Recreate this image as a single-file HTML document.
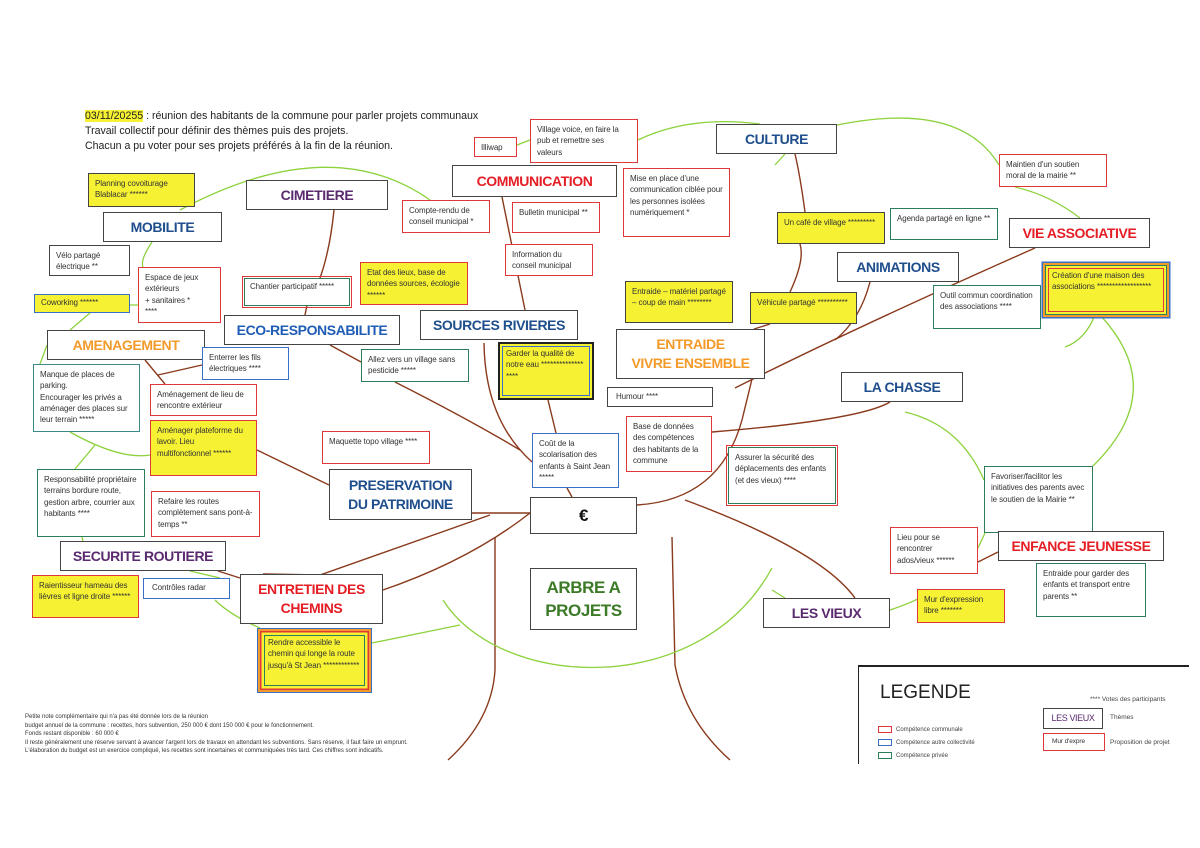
<!DOCTYPE html>
<html><head><meta charset="utf-8"><style>
body{margin:0;width:1200px;height:848px;background:#fff;position:relative;overflow:hidden;font-family:"Liberation Sans",sans-serif;}
.b{position:absolute;box-sizing:border-box;border:1.5px solid #c33;background:#fff;font-size:8px;line-height:11.3px;color:#333;padding:4px 6px;letter-spacing:-0.1px}
.r{border-color:#e0383a}.g{border-color:#2e7d5a}.bl{border-color:#3a6fc8}.d{border-color:#444}
.y{background:#f6f233}
.t{position:absolute;box-sizing:border-box;border:1.5px solid #444;background:#fff;font-weight:bold;font-size:14px;letter-spacing:-0.4px;display:flex;align-items:center;justify-content:center;text-align:center;line-height:19px;}
.hd{position:absolute;left:85px;font-size:10.6px;color:#222;}
svg{position:absolute;left:0;top:0}
</style></head><body>
<svg width="1200" height="848" fill="none">
<g stroke="#8a3a1c" stroke-width="1.4">
<path d="M495 537 L495 670 Q492 720 448 760"/>
<path d="M672 537 L675 665 Q685 720 730 760"/>
<path d="M530 513 L472 513"/>
<path d="M530 513 Q470 560 383 590"/>
<path d="M490 515 L320 575 L263 574"/>
<path d="M572 497 L567 488 M556 433 L548 400"/>
<path d="M484 343 Q485 420 532 462"/>
<path d="M395 382 Q470 420 520 450"/>
<path d="M330 345 L361 362"/>
<path d="M637 505 Q720 500 742 420 L752 379 M754 329 L770 324 M790 292 Q805 260 800 244 M805 212 Q800 175 795 154"/>
<path d="M735 388 Q850 330 1035 248"/>
<path d="M870 282 Q860 320 835 340"/>
<path d="M712 432 Q860 420 890 402"/>
<path d="M685 500 Q820 550 855 598"/>
<path d="M845 607 L890 603 M978 562 L998 552"/>
<path d="M329 485 L257 450 M145 360 L165 384 M158 375 L202 365"/>
<path d="M334 210 Q330 250 320 278 M307 305 L305 315"/>
<path d="M502 197 L525 310"/>
<path d="M240 578 L218 571"/>
</g>
<g stroke="#8cd23c" stroke-width="1.3">
<path d="M180 210 Q330 130 430 200"/>
<path d="M517 145 L530 140 M638 140 Q690 115 760 124"/>
<path d="M837 125 Q960 100 999 165"/>
<path d="M1015 187 Q1050 195 1080 218"/>
<path d="M1100 315 Q1170 390 1093 466 M1095 315 Q1085 340 1065 347"/>
<path d="M984 480 Q960 425 905 412"/>
<path d="M985 533 L978 548"/>
<path d="M890 610 Q920 600 935 589"/>
<path d="M443 600 C 500 690 700 700 772 568 M772 590 L785 598"/>
<path d="M372 643 L460 625"/>
<path d="M152 242 Q140 260 143 267 M130 305 L138 305 M90 313 L70 330 M47 345 L40 364"/>
<path d="M70 432 Q120 460 150 455 M95 445 L75 469 M82 537 L83 541"/>
<path d="M190 571 L220 578 M215 600 Q230 615 260 628"/>
<path d="M785 154 L775 165"/>
</g>
</svg>

<div class="hd" style="top:110px"><span style="background:#f6f233">03/11/20255</span> : réunion des habitants de la commune pour parler projets communaux</div>
<div class="hd" style="top:125px">Travail collectif pour définir des thèmes puis des projets.</div>
<div class="hd" style="top:140px">Chacun a pu voter pour ses projets préférés à la fin de la réunion.</div>

<div class="b r" style="left:474px;top:137px;width:43px;height:20px">Illiwap</div>
<div class="b r" style="left:530px;top:119px;width:108px;height:44px">Village voice, en faire la pub et remettre ses valeurs</div>
<div class="t" style="left:452px;top:165px;width:165px;height:32px;color:#e51d25">COMMUNICATION</div>
<div class="b r" style="left:623px;top:168px;width:107px;height:69px">Mise en place d'une communication ciblée pour les personnes isolées numériquement *</div>
<div class="t" style="left:716px;top:124px;width:121px;height:30px;color:#1f4e8c">CULTURE</div>
<div class="b r" style="left:999px;top:154px;width:108px;height:33px">Maintien d'un soutien moral de la mairie **</div>
<div class="b d y" style="left:88px;top:173px;width:107px;height:34px">Planning covoiturage Blablacar ******</div>
<div class="t" style="left:246px;top:180px;width:142px;height:30px;color:#5a2a6e">CIMETIERE</div>
<div class="t" style="left:103px;top:212px;width:119px;height:30px;color:#1f4e8c">MOBILITE</div>
<div class="b r" style="left:402px;top:200px;width:88px;height:33px">Compte-rendu de conseil municipal *</div>
<div class="b r" style="left:512px;top:202px;width:88px;height:31px">Bulletin municipal **</div>
<div class="b d y" style="left:777px;top:212px;width:108px;height:32px">Un café de village *********</div>
<div class="b g" style="left:890px;top:208px;width:108px;height:32px">Agenda partagé en ligne **</div>
<div class="t" style="left:1009px;top:218px;width:141px;height:30px;color:#e51d25">VIE ASSOCIATIVE</div>
<div class="b d" style="left:49px;top:245px;width:81px;height:31px">Vélo partagé électrique **</div>
<div class="b r" style="left:138px;top:267px;width:83px;height:56px">Espace de jeux extérieurs<br>+ sanitaires *<br>****</div>
<div class="b r" style="left:505px;top:244px;width:88px;height:32px">Information du conseil municipal</div>
<div class="t" style="left:837px;top:252px;width:122px;height:30px;color:#1f4e8c">ANIMATIONS</div>
<div class="b r" style="left:244px;top:278px;width:106px;height:28px;outline:1.5px solid #e0383a;outline-offset:1px;border-color:#2e7d5a;padding:2px 5px">Chantier participatif *****</div>
<div class="b r y" style="left:360px;top:262px;width:108px;height:43px">Etat des lieux, base de données sources, écologie ******</div>
<div class="b r y" style="left:1045px;top:265px;width:122px;height:50px;box-shadow:0 0 0 2px #f39a2a,0 0 0 3.5px #3a6fc8;border-color:#2e7d5a;outline:1.5px solid #e0383a;outline-offset:-4px">Création d'une maison des associations ******************</div>
<div class="b g y" style="left:34px;top:294px;width:96px;height:19px;padding:2px 6px;border-color:#3a6fc8">Coworking ******</div>
<div class="b d y" style="left:625px;top:281px;width:108px;height:42px">Entraide – matériel partagé – coup de main ********</div>
<div class="b d y" style="left:750px;top:292px;width:107px;height:32px">Véhicule partagé **********</div>
<div class="b g" style="left:933px;top:285px;width:108px;height:44px">Outil commun coordination des associations ****</div>
<div class="t" style="left:224px;top:315px;width:176px;height:30px;color:#1f5cb5">ECO-RESPONSABILITE</div>
<div class="t" style="left:420px;top:310px;width:158px;height:30px;color:#1f4e8c">SOURCES RIVIERES</div>
<div class="t" style="left:47px;top:330px;width:158px;height:30px;color:#f39a2a">AMENAGEMENT</div>
<div class="b bl" style="left:202px;top:347px;width:87px;height:33px">Enterrer les fils électriques ****</div>
<div class="b g" style="left:361px;top:349px;width:108px;height:33px">Allez vers un village sans pesticide *****</div>
<div class="b y" style="left:498px;top:342px;width:96px;height:58px;border:2.5px solid #222;outline:1.5px solid #3a6fc8;outline-offset:-5px">Garder la qualité de notre eau **************<br>****</div>
<div class="t" style="left:616px;top:329px;width:149px;height:50px;color:#f39a2a">ENTRAIDE<br>VIVRE ENSEMBLE</div>
<div class="b g" style="left:33px;top:364px;width:107px;height:68px;border-color:#3a8a8a">Manque de places de parking.<br>Encourager les privés a aménager des places sur leur terrain *****</div>
<div class="b r" style="left:150px;top:384px;width:107px;height:32px">Aménagement de lieu de rencontre extérieur</div>
<div class="b d" style="left:607px;top:387px;width:106px;height:20px;padding:3px 8px">Humour ****</div>
<div class="t" style="left:841px;top:372px;width:122px;height:30px;color:#1f4e8c">LA CHASSE</div>
<div class="b r y" style="left:150px;top:420px;width:107px;height:56px">Aménager plateforme du lavoir. Lieu multifonctionnel ******</div>
<div class="b r" style="left:322px;top:431px;width:108px;height:33px">Maquette topo village ****</div>
<div class="b bl" style="left:532px;top:433px;width:87px;height:55px">Coût de la scolarisation des enfants à Saint Jean *****</div>
<div class="b r" style="left:626px;top:416px;width:86px;height:56px">Base de données des compétences des habitants de la commune</div>
<div class="b g" style="left:728px;top:447px;width:108px;height:57px;outline:1.5px solid #e0383a;outline-offset:1px">Assurer la sécurité des déplacements des enfants (et des vieux) ****</div>
<div class="b g" style="left:37px;top:469px;width:108px;height:68px">Responsabilité propriétaire terrains bordure route, gestion arbre, courrier aux habitants ****</div>
<div class="t" style="left:329px;top:469px;width:143px;height:51px;color:#1f4e8c">PRESERVATION<br>DU PATRIMOINE</div>
<div class="b r" style="left:151px;top:491px;width:109px;height:46px">Refaire les routes complètement sans pont-à-temps **</div>
<div class="t" style="left:530px;top:497px;width:107px;height:37px;color:#111;font-size:17px">€</div>
<div class="b g" style="left:984px;top:466px;width:109px;height:67px">Favoriser/facilitor les initiatives des parents avec le soutien de la Mairie **</div>
<div class="b r" style="left:890px;top:527px;width:88px;height:47px">Lieu pour se rencontrer ados/vieux ******</div>
<div class="t" style="left:998px;top:531px;width:166px;height:30px;color:#e51d25">ENFANCE JEUNESSE</div>
<div class="t" style="left:60px;top:541px;width:166px;height:30px;color:#5a2a6e">SECURITE ROUTIERE</div>
<div class="b g" style="left:1036px;top:563px;width:110px;height:54px">Entraide pour garder des enfants et transport entre parents **</div>
<div class="b r y" style="left:32px;top:575px;width:107px;height:43px">Raientisseur hameau des lièvres et ligne droite ******</div>
<div class="b bl" style="left:143px;top:578px;width:87px;height:21px;padding:3px 8px">Contrôles radar</div>
<div class="t" style="left:240px;top:574px;width:143px;height:50px;color:#e51d25">ENTRETIEN DES<br>CHEMINS</div>
<div class="t" style="left:530px;top:568px;width:107px;height:62px;color:#3b7a26;font-size:17px;line-height:23px">ARBRE A<br>PROJETS</div>
<div class="t" style="left:763px;top:598px;width:127px;height:30px;color:#5a2a6e">LES VIEUX</div>
<div class="b r y" style="left:917px;top:589px;width:88px;height:34px">Mur d'expression libre *******</div>
<div class="b bl y" style="left:257px;top:628px;width:115px;height:65px;border-color:#3a6fc8;box-shadow:inset 0 0 0 2px #f39a2a,inset 0 0 0 3.5px #e0383a;outline:1.5px solid #2e7d5a;outline-offset:-8px;padding:8px 10px 4px 10px">Rendre accessible le chemin qui longe la route jusqu'à St Jean ************</div>

<div style="position:absolute;left:25px;top:713px;font-size:6px;line-height:8.6px;color:#333">
Petite note complémentaire qui n'a pas été donnée lors de la réunion<br>
budget annuel de la commune : recettes, hors subvention, 250 000 € dont 150 000 € pour le fonctionnement.<br>
Fonds restant disponible : 60 000 €<br>
Il reste généralement une réserve servant à avancer l'argent lors de travaux en attendant les subventions. Sans réserve, il faut faire un emprunt.<br>
L'élaboration du budget est un exercice compliqué, les recettes sont incertaines et communiquées très tard. Ces chiffres sont indicatifs.</div>

<div style="position:absolute;left:858px;top:665px;width:330px;height:97px;border-top:2px solid #222;border-left:1.5px solid #222"></div>
<div style="position:absolute;left:880px;top:682px;font-size:19px;color:#222">LEGENDE</div>
<div style="position:absolute;left:878px;top:724px;font-size:6px;line-height:13px;color:#444">
<div><span style="display:inline-block;width:12px;height:5px;border:1px solid #e0383a;vertical-align:middle;margin-right:4px"></span>Compétence communale</div>
<div><span style="display:inline-block;width:12px;height:5px;border:1px solid #3a6fc8;vertical-align:middle;margin-right:4px"></span>Compétence autre collectivité</div>
<div><span style="display:inline-block;width:12px;height:5px;border:1px solid #2e7d5a;vertical-align:middle;margin-right:4px"></span>Compétence privée</div></div>
<div style="position:absolute;left:1090px;top:696px;font-size:6.5px;color:#444">**** Votes des participants</div>
<div class="t" style="left:1043px;top:708px;width:60px;height:21px;font-size:9px;font-weight:normal;color:#5a2a6e">LES VIEUX</div>
<div style="position:absolute;left:1110px;top:714px;font-size:6.5px;color:#444">Thèmes</div>
<div class="b r" style="left:1043px;top:733px;width:62px;height:18px;font-size:6.5px;padding:2px 8px">Mur d'expre</div>
<div style="position:absolute;left:1110px;top:739px;font-size:6.5px;color:#444">Proposition de projet</div>
</body></html>
